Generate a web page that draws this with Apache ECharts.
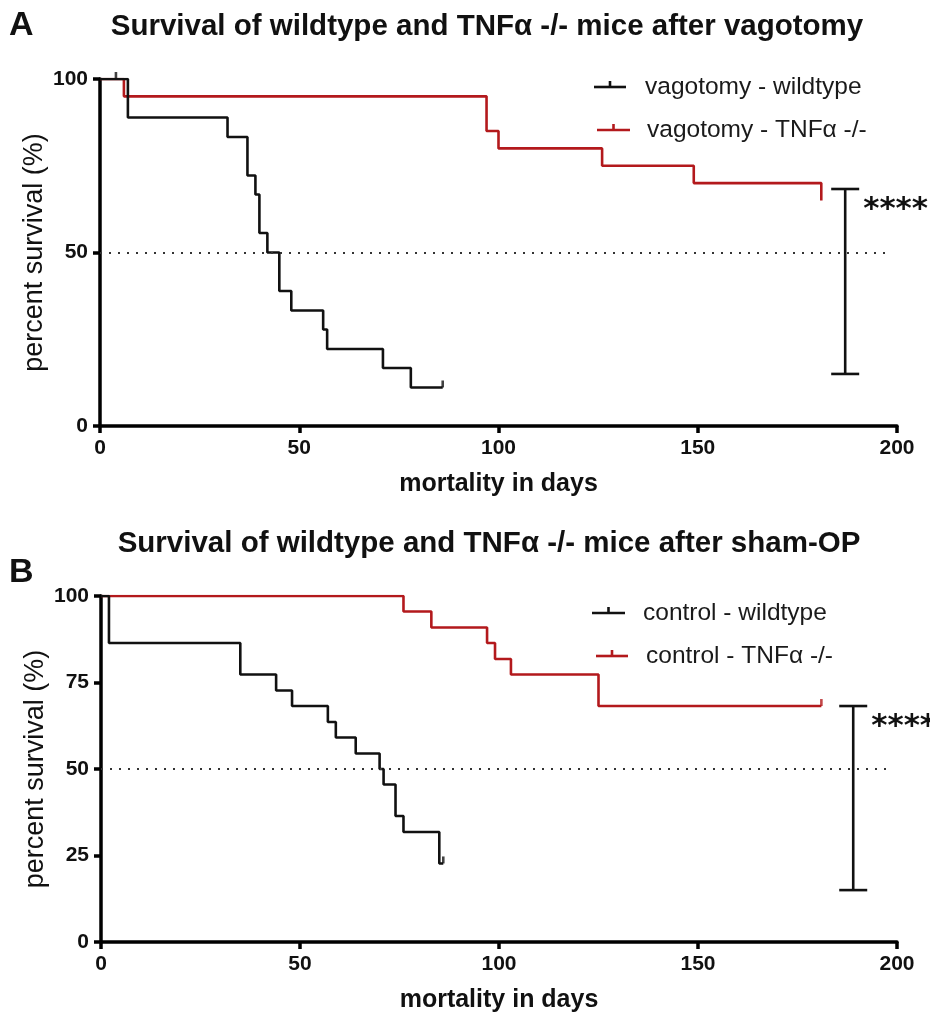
<!DOCTYPE html>
<html>
<head>
<meta charset="UTF-8">
<title>Survival of wildtype and TNFα -/- mice</title>
<script src="https://cdn.jsdelivr.net/npm/echarts@6/dist/echarts.min.js"></script>
<style>
  html, body { margin: 0; padding: 0; background: #fff; }
  #chart { width: 930px; height: 1016px; }
</style>
</head>
<body>
<div id="chart"></div>
<script>
// panel A - vagotomy
var wtA_days  = [0, 7, 32, 37, 39, 40, 42, 45, 48, 56, 57, 71, 78, 86];
var wtA_surv  = [100, 88.9, 83.3, 72.2, 66.7, 55.6, 50, 38.9, 33.3, 27.8, 22.2, 16.7, 11.1, 11.1];
var tnfA_days = [0, 6, 97, 100, 126, 149, 181];
var tnfA_surv = [100, 95, 85, 80, 75, 70, 65];
var censA = [[4, 100, 'wt'], [86, 11.1, 'wt']];
var errA = [[187, 15, 68.3]];

// panel B - sham-OP
var wtB_days  = [0, 2, 35, 44, 48, 57, 59, 64, 70, 71, 74, 76, 85, 86];
var wtB_surv  = [100, 86.4, 77.3, 72.7, 68.2, 63.6, 59.1, 54.5, 50, 45.5, 36.4, 31.8, 22.7, 22.7];
var tnfB_days = [0, 76, 83, 97, 99, 103, 125, 181];
var tnfB_surv = [100, 95.5, 90.9, 86.4, 81.8, 77.3, 68.2, 68.2];
var censB = [[86, 22.7, 'wt'], [181, 68.2, 'tnf']];
var errB = [[189, 15, 68.2]];

var xTicks = [0, 50, 100, 150, 200];
var yTicksA = [0, 50, 100];
var yTicksB = [0, 25, 50, 75, 100];

var RED = '#b3191c';
var BLK = '#111111';
var FONT = 'Liberation Sans, Arial, sans-serif';

function pairs(xs, ys) {
  var out = [];
  for (var i = 0; i < xs.length; i++) out.push([xs[i], ys[i]]);
  return out;
}

function xAxisCfg(grid) {
  return {
    type: 'value', gridIndex: grid, min: xTicks[0], max: xTicks[xTicks.length - 1],
    interval: xTicks[1] - xTicks[0],
    name: 'mortality in days', nameLocation: 'middle', nameGap: 46,
    nameTextStyle: { fontFamily: FONT, fontWeight: 'bold', fontSize: 25, color: BLK },
    axisLine: { lineStyle: { color: '#000', width: 3.5 } },
    axisTick: { inside: false, length: 7, lineStyle: { color: '#000', width: 3.5 } },
    axisLabel: { fontFamily: FONT, fontWeight: 'bold', fontSize: 21, color: BLK, margin: 12 },
    splitLine: { show: false }
  };
}

function yAxisCfg(grid, ticks) {
  return {
    type: 'value', gridIndex: grid, min: ticks[0], max: ticks[ticks.length - 1],
    interval: ticks[1] - ticks[0],
    name: 'percent survival (%)', nameLocation: 'middle', nameGap: 52, nameRotate: 90,
    nameMoveOverlap: false,
    nameTextStyle: { fontFamily: FONT, fontSize: 27, color: BLK },
    axisLine: { lineStyle: { color: '#000', width: 3.5 } },
    axisTick: { inside: false, length: 7, lineStyle: { color: '#000', width: 3.5 } },
    axisLabel: { fontFamily: FONT, fontWeight: 'bold', fontSize: 21, color: BLK, margin: 12 },
    splitLine: { show: false }
  };
}

function stepLine(name, xs, ys, color, idx, withMark) {
  var s = {
    name: name, type: 'line', step: 'end', xAxisIndex: idx, yAxisIndex: idx,
    data: pairs(xs, ys), symbol: 'none', silent: true,
    lineStyle: { color: color, width: 2.6 }, z: 3
  };
  if (withMark) {
    s.markLine = {
      silent: true, symbol: 'none', label: { show: false },
      lineStyle: { color: '#333', width: 2, type: [2, 7], cap: 'butt' },
      data: [[{ coord: [0, 50] }, { coord: [198, 50] }]]
    };
  }
  return s;
}

function censorSeries(pts, idx) {
  return {
    type: 'scatter', xAxisIndex: idx, yAxisIndex: idx, silent: true, z: 4,
    symbol: 'rect', symbolSize: [2.6, 7], symbolOffset: [0, -3.5],
    data: pts.map(function (p) {
      return { value: [p[0], p[1]], itemStyle: { color: p[2] === 'wt' ? BLK : RED } };
    })
  };
}

function renderErr(params, api) {
  var x = api.value(0), lo = api.value(1), hi = api.value(2);
  var top = api.coord([x, hi]);
  var bot = api.coord([x, lo]);
  var w = 14;
  var st = { stroke: BLK, lineWidth: 2.6 };
  return {
    type: 'group',
    children: [
      { type: 'line', shape: { x1: top[0], y1: top[1], x2: bot[0], y2: bot[1] }, style: st },
      { type: 'line', shape: { x1: top[0] - w, y1: top[1], x2: top[0] + w, y2: top[1] }, style: st },
      { type: 'line', shape: { x1: bot[0] - w, y1: bot[1], x2: bot[0] + w, y2: bot[1] }, style: st },
      { type: 'text', x: top[0] + 18, y: top[1] + 21,
        style: { text: '****', font: 'bold 31px DejaVu Sans', fill: BLK, verticalAlign: 'middle', align: 'left' } }
    ]
  };
}

function errSeries(data, idx) {
  return {
    type: 'custom', xAxisIndex: idx, yAxisIndex: idx, clip: false, silent: true,
    renderItem: renderErr, data: data, z: 5
  };
}

// legend drawn by hand, PRISM style: line with a small censor tick
function legendItem(x1, x2, y, color, text, tx) {
  return [
    { type: 'line', shape: { x1: x1, y1: y, x2: x2, y2: y }, style: { stroke: color, lineWidth: 2.6 } },
    { type: 'line', shape: { x1: (x1 + x2) / 2, y1: y, x2: (x1 + x2) / 2, y2: y - 6 }, style: { stroke: color, lineWidth: 2.6 } },
    { type: 'text', x: tx, y: y, style: { text: text, font: '24.5px ' + FONT, fill: '#1a1a1a', verticalAlign: 'middle' } }
  ];
}

var titleFont = 'bold 29.5px "Liberation Sans", Arial, sans-serif';
var graphics = [
  { type: 'text', x: 9, y: 26, style: { text: 'A', font: 'bold 34px "Liberation Sans", Arial', fill: BLK, verticalAlign: 'middle' } },
  { type: 'text', x: 487, y: 27, style: { text: 'Survival of wildtype and TNFα -/- mice after vagotomy', font: titleFont, fill: BLK, align: 'center', verticalAlign: 'middle' } },
  { type: 'text', x: 9, y: 573, style: { text: 'B', font: 'bold 34px "Liberation Sans", Arial', fill: BLK, verticalAlign: 'middle' } },
  { type: 'text', x: 489, y: 544, style: { text: 'Survival of wildtype and TNFα -/- mice after sham-OP', font: titleFont, fill: BLK, align: 'center', verticalAlign: 'middle' } }
]
  .concat(legendItem(594, 626, 87, BLK, 'vagotomy - wildtype', 645))
  .concat(legendItem(597, 630, 130, RED, 'vagotomy - TNFα -/-', 647))
  .concat(legendItem(592, 625, 613, BLK, 'control - wildtype', 643))
  .concat(legendItem(596, 628, 656, RED, 'control - TNFα -/-', 646));

var chart = echarts.init(document.getElementById('chart'), null, { renderer: 'canvas' });
chart.setOption({
  backgroundColor: '#fff',
  animation: false,
  grid: [
    { left: 100, top: 79, width: 797, height: 347 },
    { left: 101, top: 596, width: 796, height: 346 }
  ],
  xAxis: [xAxisCfg(0), xAxisCfg(1)],
  yAxis: [yAxisCfg(0, yTicksA), yAxisCfg(1, yTicksB)],
  graphic: graphics,
  series: [
    stepLine('vagotomy - TNFα -/-', tnfA_days, tnfA_surv, RED, 0, true),
    stepLine('vagotomy - wildtype', wtA_days, wtA_surv, BLK, 0, false),
    censorSeries(censA, 0),
    errSeries(errA, 0),
    stepLine('control - TNFα -/-', tnfB_days, tnfB_surv, RED, 1, true),
    stepLine('control - wildtype', wtB_days, wtB_surv, BLK, 1, false),
    censorSeries(censB, 1),
    errSeries(errB, 1)
  ]
});
</script>
</body>
</html>
